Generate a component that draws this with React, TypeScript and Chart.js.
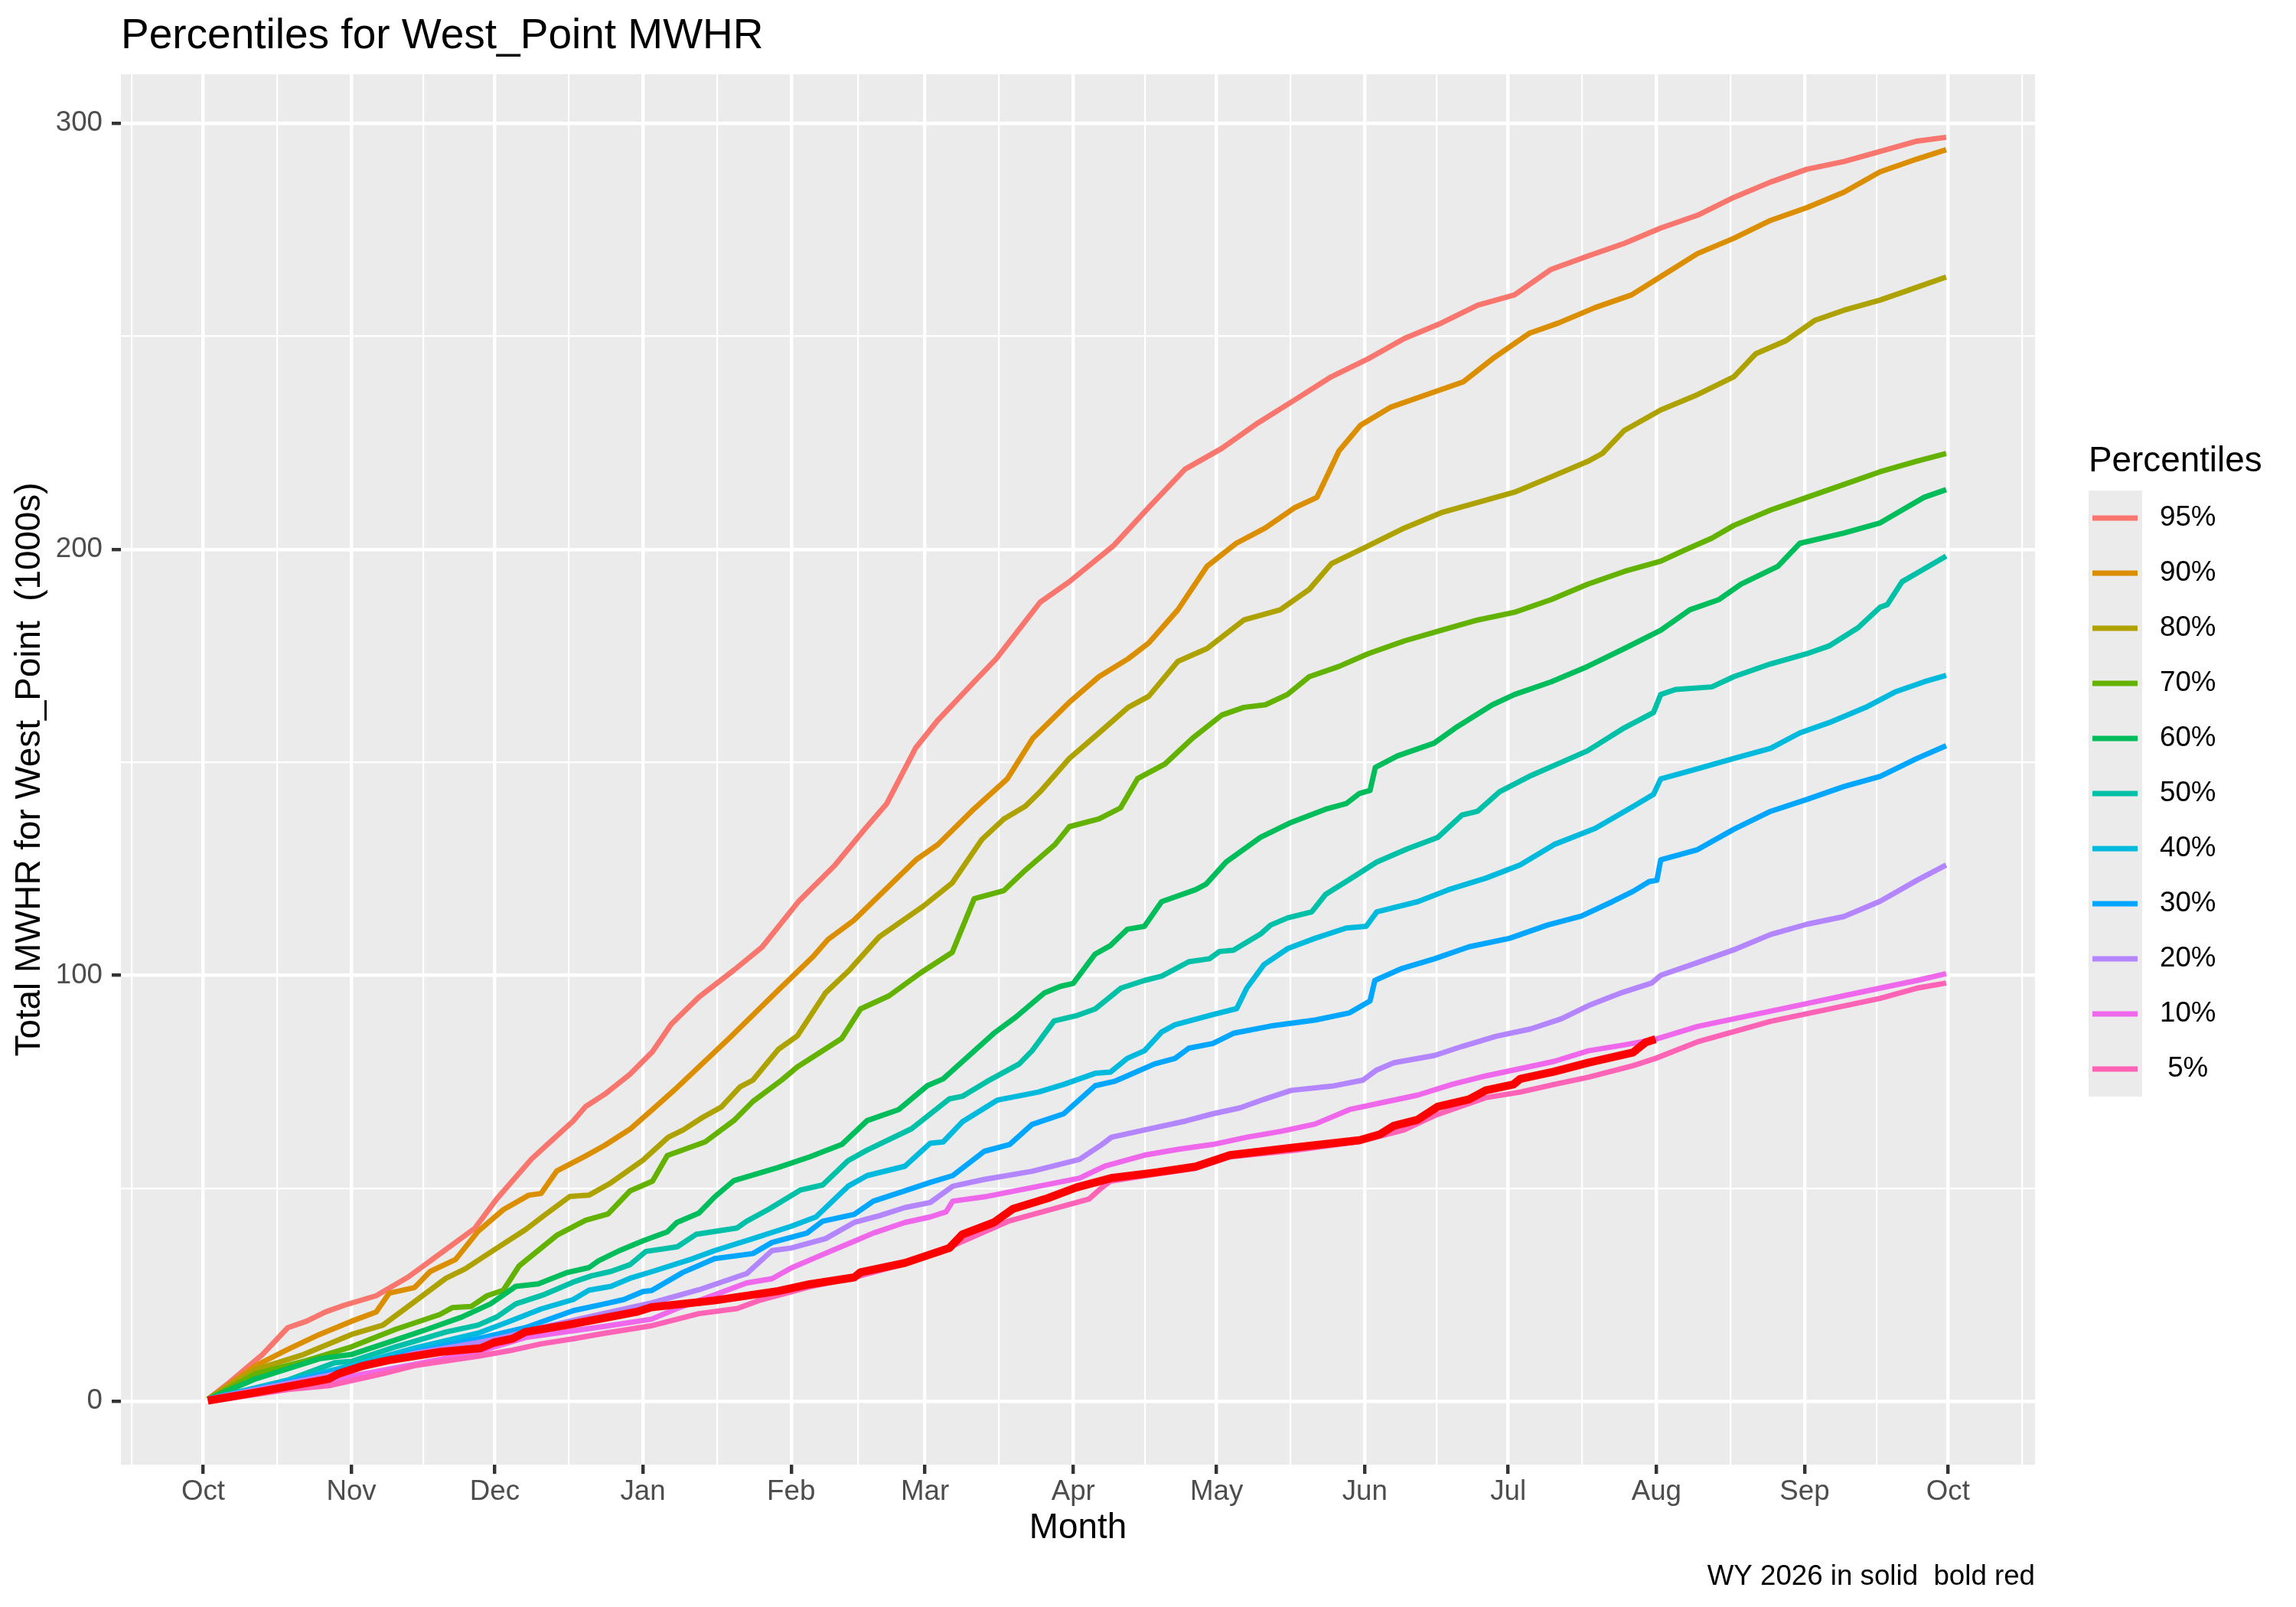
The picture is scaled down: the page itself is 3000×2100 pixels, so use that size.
import { useEffect, useRef } from 'react'
import { Chart, registerables } from 'chart.js'

Chart.register(...registerables)

// [day of water year (0 = Oct 1), total MWHR in 1000s]
type Pt = [number, number]

const p95: Pt[] = [
  [1, 0.5], [5, 4], [9, 7.8], [12.4, 11], [17.7, 17.3], [21.6, 18.8], [25.6, 21], [29.6, 22.6], [36.2, 24.8],
  [42.9, 29.2], [49.5, 34.6], [56.8, 40.6], [61.4, 47.5], [68.7, 56.9], [72.7, 61], [77.4, 65.8], [80, 69.2],
  [84, 72.1], [89.3, 76.8], [94, 82.1], [97.9, 88.5], [103.7, 94.9], [111, 101.2], [116.9, 106.6], [124.6, 117.4],
  [132.2, 125.9], [138.4, 134.3], [143, 140.3], [149, 153.3], [153.7, 159.9], [161.3, 168.9], [165.9, 174.3],
  [175.1, 187.6], [181.2, 192.4], [190.4, 200.8], [197.8, 209.8], [205.4, 218.8], [213.1, 223.7], [220.7, 229.7],
  [228.4, 235.1], [236, 240.5], [243.7, 244.7], [251.3, 249.5], [259, 253.1], [266.6, 257.3], [274.3, 259.7],
  [282, 265.7], [289.6, 268.8], [297.3, 271.8], [304.9, 275.4], [312.6, 278.4], [320.2, 282.6], [327.9, 286.2],
  [335.5, 289.2], [343.2, 291], [350.8, 293.4], [358.5, 295.8], [364.6, 296.7],
]

const p90: Pt[] = [
  [1, 0.5], [11, 8.4], [17.7, 12.2], [24.3, 15.7], [31, 18.8], [36.2, 21], [38.9, 25.4], [44.2, 26.7], [47.5, 30.5],
  [52.8, 33.3], [57.5, 39.9], [62.8, 45], [68.1, 48.4], [70.7, 48.8], [74, 54.1], [80, 57.6], [84, 60.1],
  [89.3, 63.9], [94, 68.5], [98.4, 72.9], [110.3, 85.5], [120.3, 96.5], [127.6, 104.4], [130.7, 108.4],
  [136.1, 112.9], [141.4, 118.7], [149.1, 127.1], [153.7, 130.7], [161.3, 139.1], [168.2, 146.1], [173.6, 155.7],
  [181.2, 164.1], [187.4, 170.1], [193.5, 174.3], [197.8, 178], [203.9, 185.8], [210, 196], [216.1, 201.4],
  [222.2, 205], [228.4, 209.8], [233, 212.2], [237.6, 223.1], [242.1, 229.1], [248.3, 233.3], [255.9, 236.3],
  [263.6, 239.3], [269.7, 244.7], [277.4, 250.7], [283.5, 253.1], [291.1, 256.7], [298.8, 259.7], [304.9, 264],
  [312.6, 269.4], [320.2, 273], [327.9, 277.2], [335.5, 280.2], [343.2, 283.8], [350.8, 288.6], [358.5, 291.6],
  [364.6, 293.8],
]

const p80: Pt[] = [
  [1, 0.5], [11, 7.5], [21, 11], [31, 15.7], [37.6, 17.9], [42.9, 22.3], [50.8, 28.9], [54.8, 31.1], [60.8, 35.5],
  [67.4, 40.3], [71.4, 43.7], [76.7, 48.1], [80.7, 48.4], [85.3, 51.3], [92, 56.6], [97.3, 62], [100.4, 63.7],
  [104.4, 66.6], [108.4, 69.1], [112.3, 73.8], [115, 75.4], [120.3, 82.6], [124.3, 85.8], [130.2, 95.9],
  [134.9, 100.9], [141.4, 109], [150.6, 116.2], [156.7, 121.7], [162.9, 131.9], [167.5, 136.7], [172, 139.7],
  [175.1, 143.1], [181.2, 150.9], [187.4, 156.9], [193.5, 162.9], [197.8, 165.5], [203.9, 173.7], [210, 176.7],
  [217.7, 183.4], [225.3, 185.8], [231.4, 190.6], [236, 196.6], [243.7, 200.8], [251.3, 205], [259, 208.6],
  [266.6, 211], [274.3, 213.4], [282, 217], [289.6, 220.6], [292.7, 222.5], [297.3, 227.9], [304.9, 232.7],
  [312.6, 236.3], [320.2, 240.5], [324.8, 245.9], [331, 248.9], [337.1, 253.7], [343.2, 256.1], [350.8, 258.5],
  [358.5, 261.5], [364.6, 263.9],
]

const p70: Pt[] = [
  [1, 0.5], [11, 6.5], [21, 9.4], [31, 12.8], [40.2, 16.9], [49.5, 20.4], [52.1, 22], [56.1, 22.3], [59.4, 24.8],
  [62.8, 26.1], [66.1, 31.8], [74, 39], [80, 42.5], [84.7, 44], [89.3, 49.4], [94, 51.7], [97.1, 57.7],
  [105, 60.9], [111, 65.9], [115, 70.4], [121, 75.4], [124.3, 78.5], [133.6, 85.2], [137.5, 92.1], [143.5, 95.2],
  [150.1, 100.6], [156.7, 105.4], [161.3, 118], [167.5, 119.9], [172, 124.7], [178.2, 130.7], [181.2, 134.9],
  [187.4, 136.7], [191.9, 139.3], [195.5, 146.2], [201.2, 149.6], [207, 155.7], [213.1, 161.1], [217.7, 162.9],
  [222.2, 163.5], [226.8, 165.9], [231.4, 170.1], [237.6, 172.5], [243.7, 175.5], [251.3, 178.5], [259, 181],
  [266.6, 183.4], [274.3, 185.2], [282, 188.2], [289.6, 191.8], [297.3, 194.8], [304.9, 197.2], [309.5, 199.6],
  [315.6, 202.6], [320.2, 205.6], [327.9, 209.2], [335.5, 212.2], [343.2, 215.2], [350.8, 218.2], [358.5, 220.7],
  [364.6, 222.5],
]

const p60: Pt[] = [
  [1, 0.5], [11, 5.3], [24.3, 10], [31, 11], [40.2, 14.4], [46.8, 16.9], [54.1, 19.8], [60.1, 22.9], [65.4, 27],
  [70.1, 27.6], [76, 30.2], [80.7, 31.4], [82.7, 33], [87.3, 35.5], [92, 37.7], [97.1, 39.8], [99.1, 42],
  [103.7, 44.2], [107, 48], [111, 51.8], [120.3, 54.9], [126.9, 57.4], [133.6, 60.3], [138.9, 65.9], [145.5, 68.5],
  [151.5, 74.1], [154.8, 75.7], [165.4, 86.4], [170, 90.2], [176, 95.9], [179.3, 97.4], [182, 98.1], [186.6, 105],
  [189.8, 107], [193.3, 110.8], [196.9, 111.5], [200.5, 117.3], [207.6, 120.1], [209.8, 121.4], [214, 126.6],
  [221.2, 132.4], [227.6, 135.9], [234.8, 139], [239.1, 140.3], [241.9, 142.7], [244.1, 143.4], [245.2, 148.8],
  [249.8, 151.5], [257.5, 154.5], [262, 158.1], [269.7, 163.5], [274.3, 165.9], [282, 168.9], [289.6, 172.5],
  [297.3, 176.7], [304.9, 181], [311, 185.8], [317.1, 188.2], [321.7, 191.8], [329.4, 196], [334, 201.4],
  [343.2, 203.8], [350.8, 206.2], [355.4, 209.2], [360, 212.2], [364.6, 214],
]

const p50: Pt[] = [
  [1, 0.5], [17.7, 5], [27.6, 9.1], [31, 9.4], [40.2, 12.8], [44.2, 14.1], [50.8, 16.3], [57.5, 17.9], [61.4, 19.8],
  [65.4, 22.9], [71.4, 25.1], [77.4, 28], [81.3, 29.5], [85.3, 30.5], [89.3, 32.1], [92.6, 35.2], [99.2, 36.3],
  [103.1, 39.2], [111.7, 40.7], [113.7, 42.3], [118.3, 45.1], [124.9, 49.6], [129.6, 50.8], [134.9, 56.5],
  [138.9, 59], [148.2, 64], [156.1, 71], [158.8, 71.6], [164, 75.1], [170.7, 79.2], [173.4, 82.3], [178, 89.3],
  [182.6, 90.5], [186.6, 92.1], [192, 97], [196.9, 98.8], [200.5, 99.8], [206.2, 103.2], [210.5, 103.9],
  [212.6, 105.6], [215.5, 105.9], [221.2, 109.7], [223.3, 111.8], [226.9, 113.5], [231.9, 114.9], [234.8, 119],
  [239.8, 122.5], [245.5, 126.6], [251.9, 129.7], [258.3, 132.4], [263.3, 137.6], [266.6, 138.5], [271.2, 143.1],
  [277.4, 146.7], [283.5, 149.7], [289.6, 152.7], [297.3, 158.1], [303.4, 161.7], [304.9, 165.9], [308, 167.1],
  [315.6, 167.7], [320.2, 170.1], [327.9, 173.1], [335.5, 175.5], [340.1, 177.3], [346.2, 181.6], [350.8, 186.4],
  [352.3, 187], [355.4, 192.4], [360, 195.4], [364.6, 198.4],
]

const p40: Pt[] = [
  [1, 0.5], [31, 8.4], [44.2, 12.5], [57.5, 16], [64.1, 18.8], [70.7, 21.7], [77.4, 23.9], [80.7, 26.1],
  [85.3, 27], [89.3, 28.9], [94, 30.5], [102.4, 33.5], [107, 35.4], [115, 38.2], [123, 41.1], [128.2, 43.3],
  [134.9, 50.5], [138.9, 53], [146.8, 55.2], [152.1, 60.6], [154.8, 60.9], [158.8, 65.6], [166.1, 70.7],
  [174.7, 72.6], [180, 74.4], [186.6, 77], [189.8, 77.3], [193.3, 80.5], [196.9, 82.3], [200.5, 86.7],
  [203.3, 88.4], [211.2, 90.8], [216.2, 92.2], [218.3, 97], [221.9, 102.5], [226.9, 106.3], [232.6, 108.7],
  [239.1, 111.1], [243.3, 111.5], [245.5, 114.9], [254.1, 117.3], [260.5, 120.1], [268.3, 122.8], [275.5, 125.9],
  [282.6, 130.7], [291.2, 134.5], [299.1, 139.6], [303.4, 142.5], [304.9, 146.1], [312.6, 148.5], [320.2, 150.9],
  [327.9, 153.3], [334, 156.9], [340.1, 159.3], [347.8, 162.9], [353.9, 166.5], [360, 168.9], [364.6, 170.4],
]

const p30: Pt[] = [
  [1, 0.5], [31, 7.8], [44.2, 11.6], [57.5, 14.7], [67.4, 17.3], [77.4, 21.3], [84, 22.9], [88, 23.9], [92, 25.8],
  [93.8, 26], [100.4, 30.3], [107, 33.5], [115, 34.7], [119, 37.3], [126.3, 39.5], [129.6, 42.3], [136.2, 43.9],
  [140.2, 47], [146.2, 49.2], [152.1, 51.4], [156.8, 53], [163.4, 58.7], [168.7, 60.3], [173.4, 65], [180, 67.5],
  [186.6, 74.1], [190.6, 75.1], [194.1, 76.8], [199, 79.2], [203.3, 80.5], [206.2, 82.9], [211.2, 84],
  [215.5, 86.4], [223.3, 88.1], [232.6, 89.5], [239.8, 91.2], [244.1, 94], [245.1, 98.8], [250.5, 101.5],
  [257.6, 103.9], [264.8, 106.7], [273.3, 108.7], [281.2, 111.8], [288.3, 113.9], [294.8, 117.3], [299.1, 119.7],
  [302.5, 122], [304.1, 122.3], [304.9, 127.1], [312.6, 129.5], [320.2, 134.3], [327.9, 138.5], [335.5, 141.3],
  [343.2, 144.3], [350.8, 146.7], [358.5, 150.9], [364.6, 153.9],
]

const p20: Pt[] = [
  [1, 0.5], [31, 7.2], [44.2, 11.3], [57.5, 13.8], [64.1, 15.4], [70.7, 17.3], [84, 20.7], [93.8, 23.1],
  [103.7, 26.2], [113.7, 30], [119, 35.4], [123, 36], [130.2, 38.2], [136.2, 42], [141.5, 43.6], [146.8, 45.5],
  [152.1, 46.7], [156.8, 50.5], [163.4, 52.1], [173.4, 54], [183.3, 56.8], [188, 60.3], [190, 62], [196.9, 63.7],
  [205.5, 65.8], [211.2, 67.5], [216.9, 68.9], [221.9, 70.9], [227.6, 73], [236.2, 74], [242.6, 75.4],
  [245.5, 77.8], [249.1, 79.5], [257.6, 81.2], [263.3, 83.3], [270.5, 85.7], [277.6, 87.4], [284.1, 89.8],
  [289.8, 92.9], [296.9, 96], [303, 98.2], [304.9, 100], [312.6, 103], [320.2, 106], [327.9, 109.6], [335.5, 112],
  [343.2, 113.8], [350.8, 117.4], [358.5, 122.3], [364.6, 125.9],
]

const p10: Pt[] = [
  [1, 0.3], [11, 1.8], [31, 5.9], [44.2, 8.7], [57.5, 11.6], [67.4, 15], [84, 17.6], [93.8, 19.3], [99.1, 21.8],
  [107, 25], [113.7, 27.8], [119, 28.8], [123, 31.3], [128.2, 33.8], [132.2, 35.7], [136.2, 37.6], [140.2, 39.5],
  [146.8, 42], [152.1, 43.3], [155.4, 44.5], [156.8, 47], [163.4, 48], [173.4, 50.2], [183.3, 52.4], [188.6, 55.2],
  [196.9, 57.8], [204.1, 59.2], [211.2, 60.3], [218.3, 62], [225.5, 63.4], [232.6, 65.1], [239.8, 68.5],
  [246.9, 70.2], [254.1, 71.9], [261.2, 74.4], [268.3, 76.4], [275.5, 78.1], [282.6, 79.8], [289.8, 82.3],
  [296.9, 83.6], [303.8, 85], [312.6, 88], [320.2, 89.8], [327.9, 91.6], [335.5, 93.4], [343.2, 95.2],
  [350.8, 97], [358.5, 98.8], [364.6, 100.4],
]

const p05: Pt[] = [
  [1, 0], [4.4, 0.5], [17.7, 2.8], [26.3, 3.7], [37.6, 6.5], [44.2, 8.4], [57.5, 10.6], [64.1, 11.9], [70.7, 13.5],
  [77.4, 14.7], [84, 16], [94, 17.8], [103.7, 20.6], [111.7, 21.8], [116.3, 23.7], [126.9, 26.9], [136.2, 29.1],
  [146.8, 32.3], [156.1, 36.2], [168.7, 42.4], [185.3, 47.5], [188, 50.2], [189.8, 51.7], [199, 53.3],
  [207.6, 54.7], [214.8, 57.4], [228.3, 58.9], [241.9, 61], [251.2, 63.7], [257.6, 67.1], [268.3, 71.3],
  [275.5, 72.6], [282.6, 74.4], [289.8, 76.1], [299.1, 78.8], [303.8, 80.5], [312.6, 84.4], [320.2, 86.8],
  [327.9, 89.2], [335.5, 91], [343.2, 92.8], [350.8, 94.6], [358.5, 97], [364.6, 98.2],
]

const wy2026: Pt[] = [
  [1, 0.2], [11, 2.1], [26.3, 5.3], [28.3, 6.5], [33.6, 8.4], [38.9, 9.7], [49.5, 11.6], [58.1, 12.5], [60.8, 13.8],
  [64.7, 14.7], [67.4, 16.3], [77.4, 18.2], [90.6, 21], [93.8, 22.1], [107, 23.7], [120.3, 25.9], [126.9, 27.5],
  [136.2, 29.1], [137.5, 30.3], [146.8, 32.5], [156.1, 36], [158.8, 39.2], [165.4, 42], [169.4, 45.2],
  [176.7, 47.7], [182.6, 50.2], [189.9, 52.4], [199, 53.7], [207.6, 55.1], [214.8, 57.8], [228.3, 59.6],
  [241.9, 61.3], [246.2, 62.7], [249.1, 64.7], [254, 66.1], [258.3, 69.2], [264.8, 70.9], [268.3, 73],
  [274.1, 74.4], [275.5, 75.7], [282.6, 77.4], [289.8, 79.5], [299.1, 81.9], [301.8, 84.3], [303.8, 85],
]

const seriesLabels = ['95%', '90%', '80%', '70%', '60%', '50%', '40%', '30%', '20%', '10%', ' 5%']
const seriesColors = ['#F8766D', '#DB8E00', '#AEA200', '#64B200', '#00BD5C', '#00C1A7', '#00BADE', '#00A6FF', '#B385FF', '#EF67EB', '#FF63B6']
const seriesData = [p95, p90, p80, p70, p60, p50, p40, p30, p20, p10, p05]

const monthDays = [0, 31, 61, 92, 123, 151, 182, 212, 243, 273, 304, 335, 365]
const monthLabels = ['Oct', 'Nov', 'Dec', 'Jan', 'Feb', 'Mar', 'Apr', 'May', 'Jun', 'Jul', 'Aug', 'Sep', 'Oct']
const minorDays = [-15, 15.5, 46, 76.5, 107.5, 137, 166.5, 197, 227.5, 258, 288.5, 319.5, 350, 380.5]
const yMajor = [0, 100, 200, 300]
const yMinor = [50, 150, 250]

const FONT = '"Liberation Sans", Arial, Helvetica, sans-serif'
const LINE_W = 7

const ggDecor = {
  id: 'ggDecor',
  beforeDraw(chart: Chart) {
    const { ctx, chartArea: a } = chart
    ctx.save()
    ctx.fillStyle = '#FFFFFF'
    ctx.fillRect(0, 0, chart.width, chart.height)
    ctx.fillStyle = '#EBEBEB'
    ctx.fillRect(a.left, a.top, a.right - a.left, a.bottom - a.top)
    ctx.restore()
  },
  afterDraw(chart: Chart) {
    const { ctx, chartArea: a } = chart
    ctx.save()
    ctx.fillStyle = '#000000'
    ctx.textBaseline = 'alphabetic'
    ctx.textAlign = 'left'
    ctx.font = `55px ${FONT}`
    ctx.fillText('Percentiles for West_Point MWHR', a.left, 63)

    ctx.font = `36.7px ${FONT}`
    ctx.textAlign = 'right'
    ctx.fillText('WY 2026 in solid  bold red', a.right, 2071)

    // legend, ggplot style
    const lx = a.right + 70
    const ky = 641
    const kh = 72
    const kw = 70
    const n = seriesLabels.length
    ctx.textAlign = 'left'
    ctx.font = `45.8px ${FONT}`
    ctx.fillText('Percentiles', lx, 616)
    ctx.fillStyle = '#EBEBEB'
    ctx.fillRect(lx, ky, kw, kh * n)
    ctx.font = `36.7px ${FONT}`
    ctx.textBaseline = 'middle'
    for (let i = 0; i < n; i++) {
      const cy = ky + kh * i + kh / 2
      ctx.strokeStyle = seriesColors[i]
      ctx.lineWidth = LINE_W
      ctx.lineCap = 'butt'
      ctx.beginPath()
      ctx.moveTo(lx + 5, cy)
      ctx.lineTo(lx + kw - 6, cy)
      ctx.stroke()
      ctx.fillStyle = '#000000'
      ctx.fillText(seriesLabels[i], lx + kw + 23, cy)
    }
    ctx.restore()
  },
}

export default function App() {
  const canvasRef = useRef<HTMLCanvasElement>(null)
  const chartRef = useRef<Chart | null>(null)

  useEffect(() => {
    if (!canvasRef.current) return
    if (chartRef.current) chartRef.current.destroy()

    const datasets: any[] = seriesData.map((d, i) => ({
      label: seriesLabels[i],
      data: d.map(([x, y]) => ({ x, y })),
      borderColor: seriesColors[i],
      borderWidth: LINE_W,
      borderJoinStyle: 'round',
      borderCapStyle: 'butt',
      pointRadius: 0,
      tension: 0,
      fill: false,
      order: seriesData.length - 1 - i,
    }))
    datasets.push({
      label: 'WY 2026',
      data: wy2026.map(([x, y]) => ({ x, y })),
      borderColor: '#FF0000',
      borderWidth: 10.5,
      borderJoinStyle: 'round',
      borderCapStyle: 'butt',
      pointRadius: 0,
      tension: 0,
      fill: false,
      order: -1,
    })

    const xIsMinor = (v: number) => minorDays.includes(v)
    const yIsMinor = (v: number) => yMinor.includes(v)

    chartRef.current = new Chart(canvasRef.current, {
      type: 'line',
      data: { datasets },
      options: {
        animation: false,
        responsive: false,
        devicePixelRatio: 1,
        parsing: true,
        layout: { padding: { left: 0, top: 97, right: 341, bottom: 0 } },
        plugins: { legend: { display: false }, tooltip: { enabled: false }, title: { display: false } },
        scales: {
          x: {
            type: 'linear',
            min: -17.2,
            max: 383.2,
            afterBuildTicks: (axis: any) => {
              axis.ticks = [...monthDays, ...minorDays].sort((p, q) => p - q).map((value) => ({ value }))
            },
            afterFit: (axis: any) => { axis.height = 186 },
            border: { display: false },
            grid: {
              color: '#FFFFFF',
              lineWidth: (c: any) => (xIsMinor(c.tick?.value) ? 2.2 : 4.4),
              drawTicks: true,
              tickLength: 12,
              tickWidth: 4.4,
              tickColor: (c: any) => (xIsMinor(c.tick?.value) ? 'rgba(0,0,0,0)' : '#333333'),
            },
            ticks: {
              autoSkip: false,
              maxRotation: 0,
              minRotation: 0,
              padding: 2,
              color: '#4D4D4D',
              font: { family: FONT, size: 36.7 },
              callback: (value: any) => {
                const i = monthDays.indexOf(Number(value))
                return i >= 0 ? monthLabels[i] : ''
              },
            },
            title: {
              display: true,
              text: 'Month',
              color: '#000000',
              font: { family: FONT, size: 45.8 },
              padding: { top: 0, bottom: 75 },
            },
          },
          y: {
            type: 'linear',
            min: -14.85,
            max: 311.5,
            afterBuildTicks: (axis: any) => {
              axis.ticks = [...yMajor, ...yMinor].sort((p, q) => p - q).map((value) => ({ value }))
            },
            afterFit: (axis: any) => { axis.width = 158 },
            border: { display: false },
            grid: {
              color: '#FFFFFF',
              lineWidth: (c: any) => (yIsMinor(c.tick?.value) ? 2.2 : 4.4),
              drawTicks: true,
              tickLength: 12,
              tickWidth: 4.4,
              tickColor: (c: any) => (yIsMinor(c.tick?.value) ? 'rgba(0,0,0,0)' : '#333333'),
            },
            ticks: {
              autoSkip: false,
              padding: 12,
              color: '#4D4D4D',
              font: { family: FONT, size: 36.7 },
              callback: (value: any) => (yMajor.includes(Number(value)) ? String(value) : ''),
            },
            title: {
              display: true,
              text: 'Total MWHR for West_Point  (1000s)',
              color: '#000000',
              font: { family: FONT, size: 45.8 },
              padding: { top: 12, bottom: 0 },
            },
          },
        },
      },
      plugins: [ggDecor],
    })

    return () => { chartRef.current?.destroy() }
  }, [])

  return (
    <div style={{ position: 'absolute', left: 0, top: 0, width: 3000, height: 2100, background: '#FFFFFF' }}>
      <canvas ref={canvasRef} width={3000} height={2100} style={{ display: 'block', width: 3000, height: 2100 }} />
    </div>
  )
}
